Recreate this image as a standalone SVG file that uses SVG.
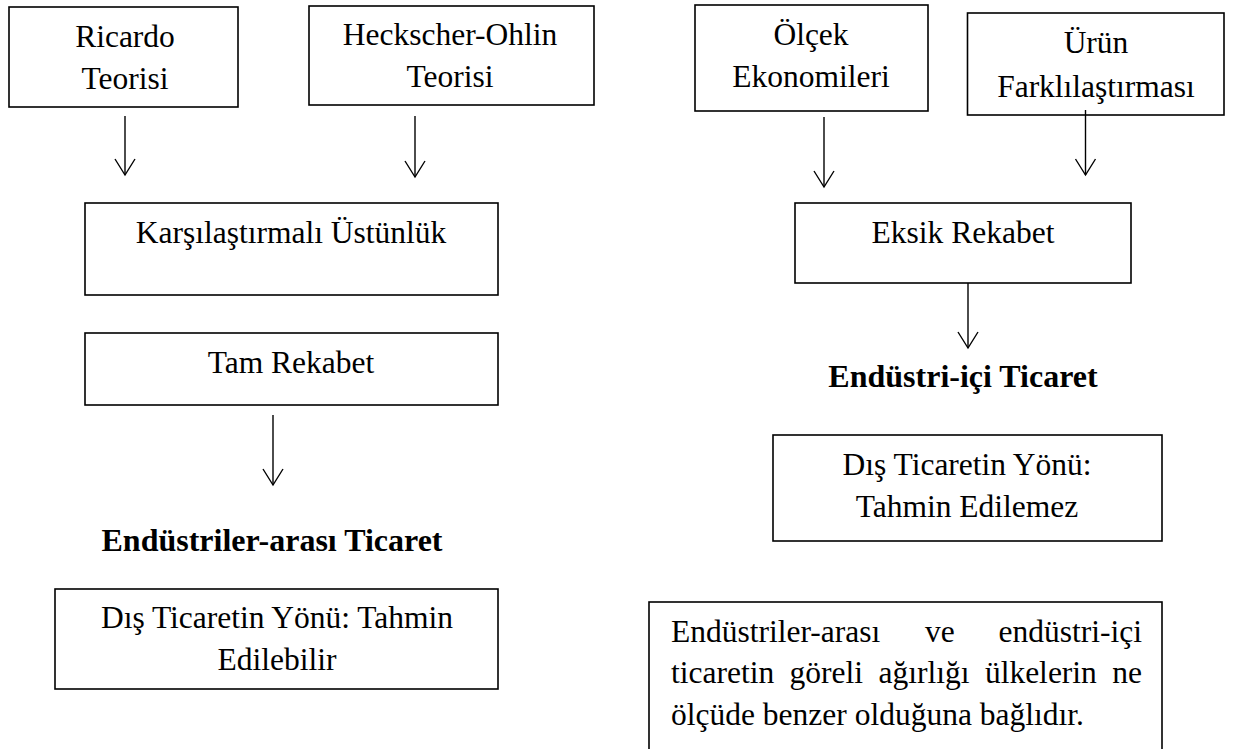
<svg xmlns="http://www.w3.org/2000/svg" width="1233" height="749" viewBox="0 0 1233 749">
  <style>
    .box { fill: #ffffff; stroke: #000000; stroke-width: 1.6; }
    .t { font-family: "Liberation Serif", "Times New Roman", serif; fill: #000000; font-size: 31.5px; }
    .c { text-anchor: middle; }
    .b { font-weight: bold; font-size: 32px; }
    .link { fill: none; stroke: #000000; stroke-width: 1.4; marker-end: url(#open); }
  </style>
  <defs>
    <marker id="open" markerUnits="userSpaceOnUse" viewBox="-18 -12 20 24" markerWidth="20" markerHeight="24" refX="0" refY="0" orient="auto">
      <path d="M-16,-10 L0,0 L-16,10" fill="none" stroke="#000000" stroke-width="1.4"/>
    </marker>
  </defs>
  <rect width="1233" height="749" fill="#ffffff"/>

  <!-- left column: classical theories -->
  <g id="ricardo">
    <rect class="box" x="9" y="7" width="229" height="100"/>
    <text class="t c" x="125" y="47">Ricardo</text>
    <text class="t c" x="125" y="89">Teorisi</text>
  </g>
  <g id="heckscher-ohlin">
    <rect class="box" x="309" y="6" width="285" height="99"/>
    <text class="t c" x="450" y="45">Heckscher-Ohlin</text>
    <text class="t c" x="450" y="87">Teorisi</text>
  </g>
  <g id="karsilastirmali">
    <rect class="box" x="85" y="203" width="413" height="92"/>
    <text class="t c" x="291" y="243">Karşılaştırmalı Üstünlük</text>
  </g>
  <g id="tam-rekabet">
    <rect class="box" x="85" y="333" width="413" height="72"/>
    <text class="t c" x="291" y="373">Tam Rekabet</text>
  </g>
  <g id="endustriler-arasi">
    <text class="t c b" x="272" y="551">Endüstriler-arası Ticaret</text>
  </g>
  <g id="yon-tahmin-edilebilir">
    <rect class="box" x="55" y="589" width="443" height="100"/>
    <text class="t c" x="277" y="628">Dış Ticaretin Yönü: Tahmin</text>
    <text class="t c" x="277" y="670">Edilebilir</text>
  </g>

  <!-- right column: new trade theory -->
  <g id="olcek">
    <rect class="box" x="695" y="5" width="233" height="106"/>
    <text class="t c" x="811" y="45">Ölçek</text>
    <text class="t c" x="811" y="87">Ekonomileri</text>
  </g>
  <g id="urun">
    <rect class="box" x="967.5" y="13" width="256.5" height="102"/>
    <text class="t c" x="1096" y="53">Ürün</text>
    <text class="t c" x="1096" y="97">Farklılaştırması</text>
  </g>
  <g id="eksik-rekabet">
    <rect class="box" x="795" y="203" width="336" height="80"/>
    <text class="t c" x="963" y="243">Eksik Rekabet</text>
  </g>
  <g id="endustri-ici">
    <text class="t c b" x="963" y="387">Endüstri-içi Ticaret</text>
  </g>
  <g id="yon-tahmin-edilemez">
    <rect class="box" x="773" y="435" width="389" height="106"/>
    <text class="t c" x="967" y="475">Dış Ticaretin Yönü:</text>
    <text class="t c" x="967" y="517">Tahmin Edilemez</text>
  </g>
  <g id="agirlik-notu">
    <rect class="box" x="649" y="602" width="513" height="170"/>
    <text class="t" y="642">
      <tspan x="671">Endüstriler-arası</tspan><tspan x="925">ve</tspan><tspan x="1142" text-anchor="end">endüstri-içi</tspan>
    </text>
    <text class="t" y="683">
      <tspan x="671">ticaretin</tspan><tspan x="789.6">göreli</tspan><tspan x="878.5">ağırlığı</tspan><tspan x="984.9">ülkelerin</tspan><tspan x="1142" text-anchor="end">ne</tspan>
    </text>
    <text class="t" x="671" y="725">ölçüde benzer olduğuna bağlıdır.</text>
  </g>

  <!-- connectors -->
  <g id="connectors">
    <path class="link" d="M125,116 V175"/>
    <path class="link" d="M415,116 V177"/>
    <path class="link" d="M273,415 V485"/>
    <path class="link" d="M824,117 V187"/>
    <path class="link" d="M1085.5,110 V175"/>
    <path class="link" d="M968,283 V348"/>
  </g>
</svg>
